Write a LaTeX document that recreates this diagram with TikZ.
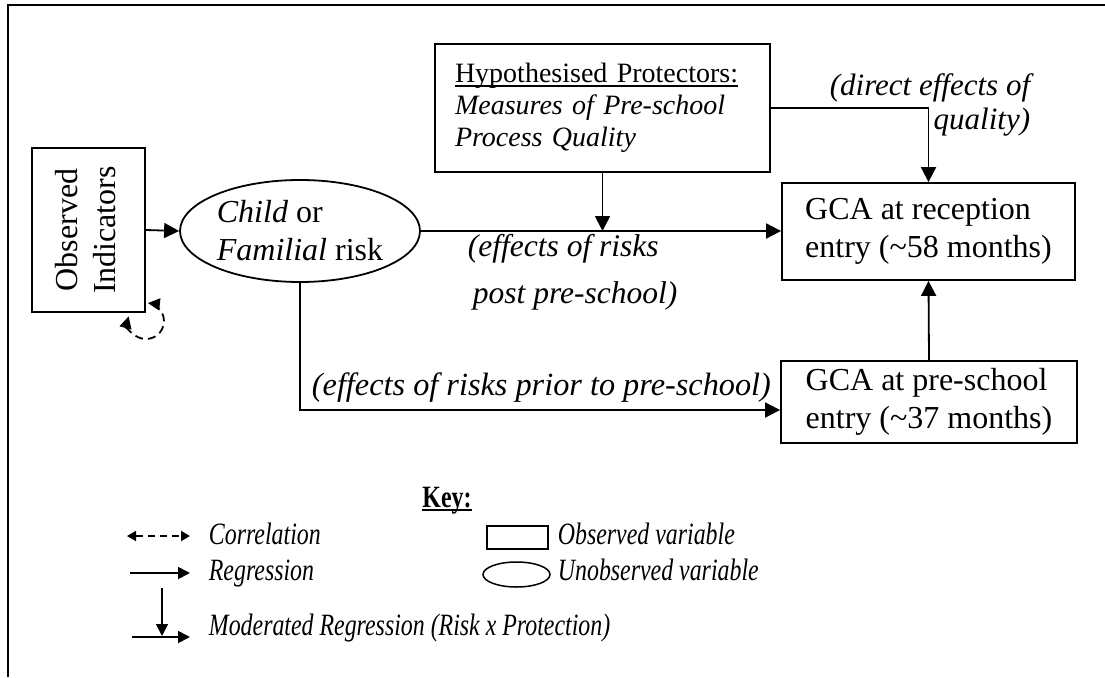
\documentclass[tikz,border=0pt]{standalone}
\usepackage{fontspec}
\setmainfont{Liberation Serif}
\newfontfamily\narrowfont[FakeStretch=0.77]{Liberation Serif}
\usetikzlibrary{arrows.meta,shapes.geometric}
\newcommand\myul[2][1.5pt]{\leavevmode\setbox0\hbox{#2}\rlap{\rule[-4pt]{\wd0}{#1}}\box0}
\begin{document}
\begin{tikzpicture}[x=1pt,y=-1pt,
  line width=1.8pt,
  big/.style={font=\fontsize{32}{38}\selectfont},
  tip/.style={-{Triangle[length=15pt,width=15pt]}},
  smalltip/.style={-{Triangle[length=12pt,width=12pt]}},
  box/.style={draw, rectangle, inner sep=0pt, big},
  lbl/.style={inner sep=0pt, font=\fontsize{32}{38}\selectfont\itshape},
  key/.style={inner sep=0pt, anchor=base west, font=\fontsize{31}{36}\selectfont\narrowfont\itshape},
  corr/.style={dash pattern=on 8pt off 5pt},
]
\useasboundingbox (0,0) rectangle (1105,677);
% outer frame (partially visible)
\draw[line width=2pt] (8,677) -- (8,5) -- (1105,5);

% main nodes
\node[box, minimum width=113pt, minimum height=164pt] (obs) at (88.5,230)
  {\rotatebox{90}{\begin{tabular}{@{}c@{}}Observed\\Indicators\end{tabular}}};
\node[draw, ellipse, inner sep=0pt, minimum width=240pt, minimum height=102pt, big, align=left] (risk) at (300,231)
  {\textit{Child} or\\\textit{Familial} risk};
\node[box, minimum width=335pt, minimum height=128pt, text width=295pt, align=left,
  font=\fontsize{28}{32}\selectfont] (prot) at (602.5,108)
  {\myul[1.3pt]{Hypothesised Protectors:}\\\textit{Measures of Pre-school}\\\textit{Process Quality}};
\node[box, minimum width=293pt, minimum height=97pt, align=left] (rec) at (928.5,231.5)
  {GCA at reception\\entry (\textasciitilde58 months)};
\node[box, minimum width=296pt, minimum height=82pt, align=left] (pre) at (929,402)
  {GCA at pre-school\\entry (\textasciitilde37 months)};

% connectors
\draw[tip] (obs.east) -- (risk.west);
\draw[tip] (risk.east) -- (risk.east -| rec.west);
\draw[tip] (prot.south) -- (prot.south |- risk.east);
\draw[tip] (prot.east) -| (rec.north);
\draw[tip] (risk.south) |- ([yshift=-8pt]pre.west);
\draw[tip] (pre.north) -- (rec.south);
% correlation self-loop
\coordinate (loopc) at (146,321);
\draw[corr, {Triangle[length=12pt,width=12pt]}-{Triangle[length=12pt,width=12pt]}]
  ([shift={(195:18)}]loopc) arc[start angle=195, end angle=-84, radius=18];

% labels
\node[lbl, anchor=east, align=right, font=\fontsize{31}{34}\selectfont\itshape] (ldir) at (1031,105)
  {(direct effects of\\quality)};
\node[lbl, anchor=west, align=left, font=\fontsize{31.5}{47}\selectfont\itshape] (lpost) at (467,272)
  {(effects of risks\\\hspace*{5pt}post pre-school)};
\node[lbl, anchor=west, font=\fontsize{32.3}{38}\selectfont\itshape] (lprior) at (311,388) {(effects of risks prior to pre-school)};

% key
\node[inner sep=0pt, anchor=base, font=\fontsize{31}{36}\selectfont\narrowfont\bfseries] (keyt) at (447,507) {\myul[2pt]{Key:}};
\coordinate (c1) at (127,536); \coordinate (c2) at (190,536);
\draw[dash pattern=on 7pt off 5pt, {Triangle[length=9pt,width=10pt]}-{Triangle[length=9pt,width=10pt]}] (c1) -- (c2);
\node[key] (kcorr) at (208,544) {Correlation};
\coordinate (r1) at (130,573); \coordinate (r2) at (190,573);
\draw[smalltip] (r1) -- (r2);
\node[key] (kreg) at (208,580) {Regression};
\coordinate (m1) at (132,637); \coordinate (m2) at (190,637);
\coordinate (m3) at (162,588); \coordinate (m4) at (162,636);
\draw[smalltip] (m1) -- (m2);
\draw[smalltip] (m3) -- (m4);
\node[key] (kmod) at (208,635) {Moderated Regression (Risk x Protection)};
\node[draw, rectangle, line width=1.5pt, minimum width=61pt, minimum height=23pt, inner sep=0pt] (krect) at (517.5,537.5) {};
\node[key] (kobs) at (557,544) {Observed variable};
\node[draw, ellipse, line width=1.5pt, minimum width=67pt, minimum height=25pt, inner sep=0pt] (kell) at (516.5,574.5) {};
\node[key] (kunobs) at (557,580) {Unobserved variable};
\end{tikzpicture}
\end{document}
